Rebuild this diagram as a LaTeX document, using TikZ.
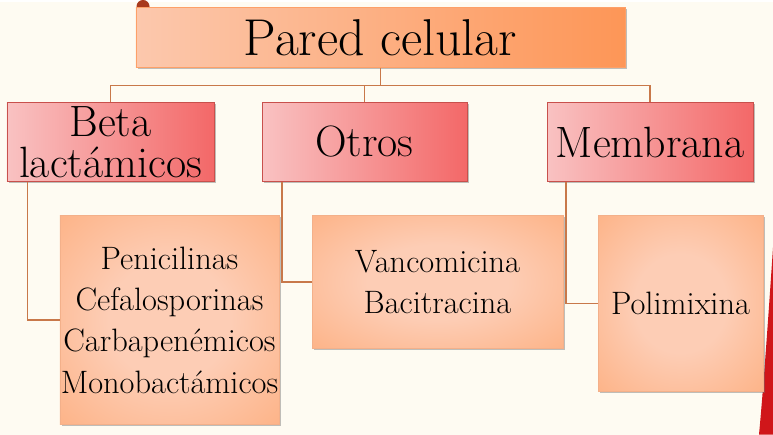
\documentclass[tikz,border=0pt]{standalone}
\usetikzlibrary{calc,shadows}
\definecolor{bgcream}{HTML}{FEFBF2}
\definecolor{peach}{HTML}{FCC8AD}
\definecolor{orangeR}{HTML}{FD9657}
\definecolor{pinkL}{HTML}{F9C2C2}
\definecolor{redR}{HTML}{F36868}
\definecolor{redB}{HTML}{C8504C}
\definecolor{leafIn}{HTML}{FDCDB5}
\definecolor{leafOut}{HTML}{FE9A5B}
\definecolor{leafB}{HTML}{F3B08A}
\definecolor{connC}{HTML}{C8784A}
\definecolor{decoR}{HTML}{D0161A}
\definecolor{blobR}{HTML}{A83A1E}
\pgfdeclareradialshading{leafshade}{\pgfpoint{0bp}{0bp}}{%
  color(0bp)=(leafIn); color(14bp)=(leafIn); color(42bp)=(leafOut!65!leafIn); color(58bp)=(leafOut); color(71bp)=(leafOut)}
\tikzset{
  shad/.style={drop shadow={shadow xshift=1.6bp, shadow yshift=-1.8bp, fill=black!55, opacity=0.45}},
  rootbox/.style={shad, rectangle, inner sep=0pt, left color=peach, right color=orangeR, draw=orangeR!80!peach, line width=0.7bp,
    font=\fontsize{52}{52}\selectfont},
  catbox/.style={shad, rectangle, inner sep=0pt, left color=pinkL, right color=redR, draw=redB, line width=0.8bp,
    align=center, font=\fontsize{44}{41}\selectfont},
  leafbox/.style={shad, rectangle, inner sep=0pt, shading=leafshade, draw=leafB, line width=0.7bp,
    align=center, font=\fontsize{32.5}{41.5}\selectfont},
  conn/.style={draw=connC, line width=1.8bp}
}
\begin{document}
\begin{tikzpicture}[x=1bp,y=-1bp]
\fill[bgcream] (0,0) rectangle (773,432);
% decorations
\fill[blobR] (143,4) circle (6.5);
\fill[decoR] (773,245) .. controls (768,320) and (763,390) .. (759,432) -- (773,432) -- cycle;
% nodes
\node[rootbox, minimum width=489bp, minimum height=60bp] (root) at (380.5,35) {Pared celular};
\node[catbox, minimum width=207bp, minimum height=79bp] (beta) at (110.5,139.5) {Beta\\lactámicos};
\node[catbox, minimum width=205bp, minimum height=79bp] (otros) at (364.5,139.5) {Otros};
\node[catbox, minimum width=206bp, minimum height=79bp] (mem) at (650,139.5) {Membrana};
\node[leafbox, minimum width=219bp, minimum height=209bp] (leaf1) at (169.5,317.5) {Penicilinas\\Cefalosporinas\\Carbapenémicos\\Monobactámicos};
\node[leafbox, minimum width=251bp, minimum height=133bp] (leaf2) at (437.5,279.5) {Vancomicina\\Bacitracina};
\node[leafbox, minimum width=165bp, minimum height=176bp] (leaf3) at (680.5,301) {Polimixina};
% connectors
\coordinate (bus) at (0,83);
\draw[conn] (root.south) -- (root.south |- bus);
\draw[conn] (beta.north) -- (beta.north |- bus) -- (mem.north |- bus) -- (mem.north);
\draw[conn] (otros.north) -- (otros.north |- bus);
\coordinate (b1) at ($(beta.south west)+(21,0)$);
\coordinate (b2) at ($(otros.south west)+(20,0)$);
\coordinate (b3) at ($(mem.south west)+(19,0)$);
\draw[conn] (b1) |- (leaf1.west);
\draw[conn] (b2) |- (leaf2.west);
\draw[conn] (b3) |- (leaf3.west);
\end{tikzpicture}
\end{document}
